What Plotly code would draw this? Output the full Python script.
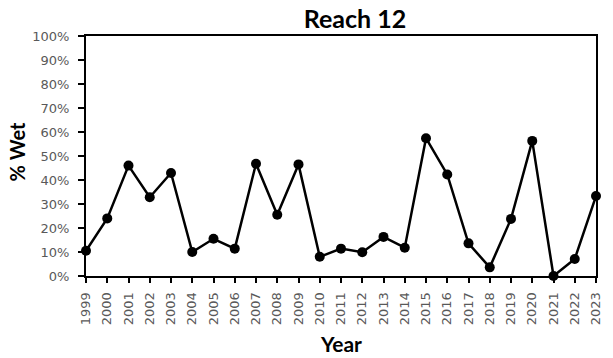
import plotly.graph_objects as go

years = list(range(1999, 2024))
pct_wet = [10.5, 24.0, 46.0, 32.8, 42.9, 10.0, 15.5, 11.4, 46.8, 25.5, 46.5,
           8.0, 11.4, 9.9, 16.3, 11.8, 57.4, 42.3, 13.6, 3.6, 23.8, 56.3,
           0.0, 7.1, 33.3]
y_ticks = list(range(0, 101, 10))
y_tick_text = [f"{v}%" for v in y_ticks]

W, H = 613, 358
L, R, T, B = 86, 10, 36, 82
pw, ph = W - L - R, H - T - B

def px(x):  # page x -> paper x
    return (x - L) / pw

def py(y):  # page y -> paper y
    return (H - B - y) / ph

fig = go.Figure()
fig.add_trace(go.Scatter(
    x=years, y=pct_wet, mode="lines+markers",
    line=dict(color="black", width=2.5),
    marker=dict(color="black", size=10),
    cliponaxis=False, showlegend=False, hoverinfo="skip",
))

tick_font = dict(family="DejaVu Sans", size=13, color="#595959")
fig.update_layout(
    width=W, height=H,
    margin=dict(l=L, r=R, t=T, b=B),
    paper_bgcolor="white", plot_bgcolor="white",
    title=dict(text="<b>Reach 12</b>", x=355 / W, xanchor="center",
               y=1 - 19 / H, yanchor="middle", yref="container",
               font=dict(family="Lato", size=25, color="black")),
    xaxis=dict(range=[1999, 2023], tickmode="array", tickvals=years,
               ticktext=[str(y) for y in years], tickangle=-90,
               showgrid=False, zeroline=False,
               showline=True, linecolor="black", linewidth=2, mirror=True,
               ticks="outside", ticklen=5, tickwidth=1.5, tickcolor="black",
               ticklabelstandoff=4, tickfont=tick_font),
    yaxis=dict(range=[0, 100], tickmode="array", tickvals=y_ticks,
               ticktext=y_tick_text, showgrid=False, zeroline=False,
               showline=True, linecolor="black", linewidth=2, mirror=True,
               ticks="outside", ticklen=6, tickwidth=1.5, tickcolor="black",
               ticklabelstandoff=6, tickfont=tick_font),
    annotations=[
        dict(text="<b>% Wet</b>", x=px(16), y=py(151.5), xref="paper", yref="paper",
             xanchor="center", yanchor="middle", textangle=-90, showarrow=False,
             font=dict(family="Lato", size=20, color="black")),
        dict(text="<b>Year</b>", x=px(345), y=py(343), xref="paper", yref="paper",
             xanchor="center", yanchor="middle", showarrow=False,
             font=dict(family="Lato", size=21, color="black")),
    ],
)
fig.write_html("out.html", config={"displayModeBar": False},
               post_script="document.body.style.margin='0';")
